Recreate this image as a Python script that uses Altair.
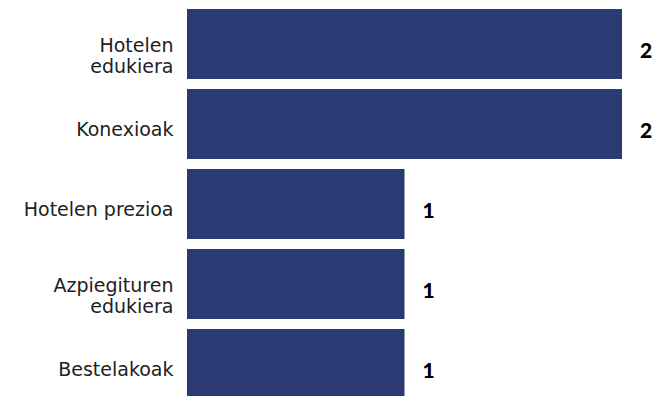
import altair as alt
import pandas as pd
import json

categories = ["Hotelen edukiera", "Konexioak", "Hotelen prezioa", "Azpiegituren edukiera", "Bestelakoak"]
values = [2, 2, 1, 1, 1]
label_lines = {
    "Hotelen edukiera": ["Hotelen", "edukiera"],
    "Azpiegituren edukiera": ["Azpiegituren", "edukiera"],
}

df = pd.DataFrame({"cat": categories, "val": values})

expr = "datum.value"
for k, v in label_lines.items():
    expr = f"datum.value == {json.dumps(k)} ? {json.dumps(v)} : ({expr})"
multi_test = " || ".join(f"datum.value == {json.dumps(k)}" for k in label_lines)

y = alt.Y("cat:N", sort=categories,
          scale=alt.Scale(paddingInner=0.125, paddingOuter=0),
          axis=alt.Axis(title=None, domain=False, ticks=False, labelPadding=14,
                        labelFont="DejaVu Sans", labelFontSize=19, labelFontWeight="normal",
                        labelColor="#222222",
                        labelExpr=expr,
                        labelOffset={"condition": {"test": multi_test, "value": 2}, "value": 6},
                        labelLineHeight=21,
                        labelLimit=300))
x = alt.X("val:Q", scale=alt.Scale(domain=[0, 2]), axis=None)

bars = alt.Chart(df).mark_bar(color="#2c3a73").encode(x=x, y=y)
text = alt.Chart(df).mark_text(align="left", baseline="middle", dx=18, dy=8,
                               font="Lato", fontWeight=900, fontSize=21,
                               color="#000000").encode(x=x, y=y, text="val:Q")

chart = (bars + text).properties(
    width=435, height=390,
    autosize=alt.AutoSizeParams(type="none"),
    padding={"left": 179, "top": 1, "right": 30, "bottom": 0},
).configure_view(stroke=None)

chart.save("out.html", embed_options={"renderer": "svg", "actions": False})
